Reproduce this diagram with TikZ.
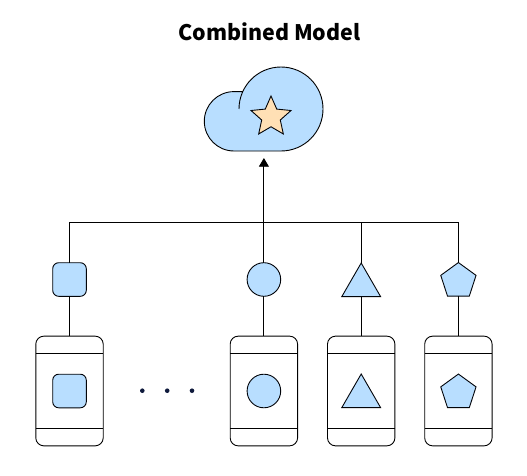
\documentclass[tikz,border=0pt]{standalone}
\usepackage{fontspec}
\usepackage{tikz}
\usetikzlibrary{arrows.meta,shapes.geometric}
\newfontfamily\titlefont{Noto Sans CJK SC}
\definecolor{model_blue}{HTML}{B8DEFF}
\definecolor{star_cream}{HTML}{FFE0B5}
\definecolor{dot_navy}{HTML}{0F1A3C}
\tikzset{
  wire/.style={draw=black, line width=0.9pt},
  arrow/.style={wire, -{Triangle[length=8.7pt, width=10pt]}},
  part/.style={draw=black!85!dot_navy, fill=model_blue, line width=0.9pt, inner sep=0pt, outer sep=0pt},
  square part/.style={part, rectangle, rounded corners=6pt, minimum size=33.6pt},
  circle part/.style={part, circle, minimum size=33.6pt},
  triangle part/.style={part, regular polygon, regular polygon sides=3, minimum size=44.8pt},
  pentagon part/.style={part, regular polygon, regular polygon sides=5, minimum size=37.1pt},
  phone/.style={draw=black, fill=white, line width=0.9pt, rectangle, rounded corners=8pt,
    minimum width=67.4pt, minimum height=109.7pt, inner sep=0pt, outer sep=0pt},
  star part/.style={part, fill=star_cream, star, star points=5, star point ratio=2.15, minimum size=42pt},
  dot/.style={circle, fill=dot_navy, minimum size=4.6pt, inner sep=0pt},
}
\newcommand{\phoneat}[2]{%
  \node[phone] (#1) at (#2,84) {};%
  \draw[wire] (#1.west |- 0,122) -- (#1.east |- 0,122);%
  \draw[wire] (#1.west |- 0,46.7) -- (#1.east |- 0,46.7);%
}
\begin{document}
\begin{tikzpicture}[x=1pt, y=1pt]
  \useasboundingbox (0,0) rectangle (527,475);

  \node[font=\titlefont\bfseries\fontsize{21.4}{24}\selectfont] (title) at (269.5,443) {Combined Model};

  % --- model --------------------------------------------------------------
  \draw[wire, fill=model_blue] (239,366) arc[start angle=180, end angle=-90, radius=42]
    -- (234,324) arc[start angle=-90, end angle=-270, radius=29.7] -- (243,383.4);
  \node[star part] (star) at (271,358) {};
  \coordinate (tip) at (263.9,317);

  % --- phones --------------------------------------------------------------
  \phoneat{phoneA}{69.5}
  \phoneat{phoneB}{263.9}
  \phoneat{phoneC}{361.2}
  \phoneat{phoneD}{458.4}

  \node[square part] (localA) at (69.5,84) {};
  \node[circle part] (localB) at (263.9,84) {};
  \node[triangle part] (localC) at (361.2,78.6) {};
  \node[pentagon part] (localD) at (458.4,82.4) {};

  \foreach \i in {142.3,167.2,192} {\node[dot] at (\i,84.3) {};}

  % --- upload row and bus --------------------------------------------------
  \coordinate (busA) at (69.5,252.7);
  \coordinate (busC) at (361.2,252.7);
  \coordinate (busD) at (458.4,252.7);

  \node[square part] (upA) at (69.5,195.5) {};
  \node[circle part] (upB) at (263.9,195.5) {};
  \node[triangle part] (upC) at (361.2,189.6) {};
  \node[pentagon part] (upD) at (458.4,193.9) {};

  \draw[wire] (busA) -- (busD);
  \foreach \x/\y in {busA/upA,busC/upC,busD/upD} {\draw[wire] (\x) -- (\y.north);}
  \draw[arrow] (upB.north) -- (tip);
  \foreach \x/\y in {A,B,C,D} {\draw[wire] (up\x.south) -- (phone\x.north);}
\end{tikzpicture}
\end{document}
